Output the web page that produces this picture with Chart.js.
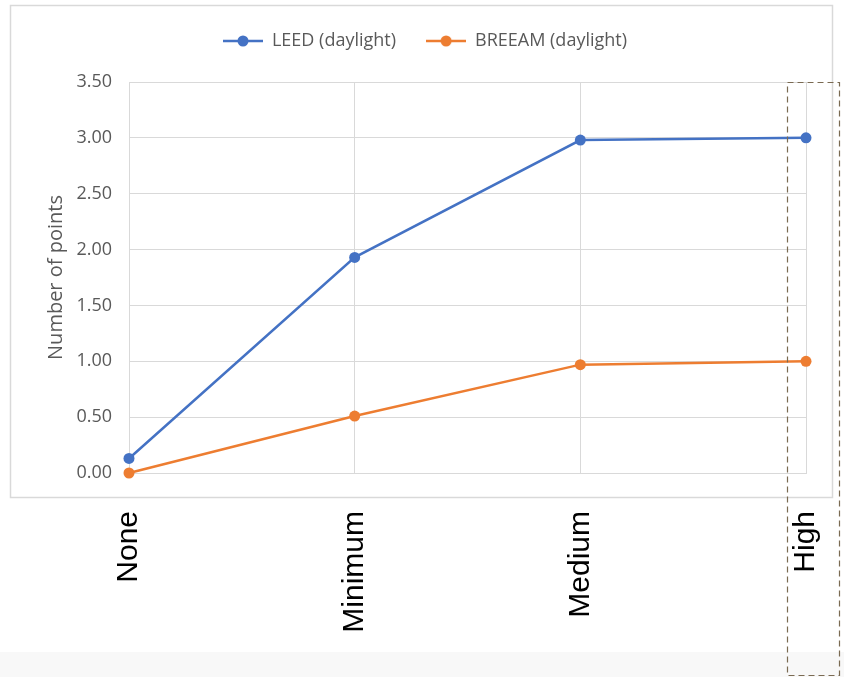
<!DOCTYPE html>
<html>
<head>
<meta charset="utf-8">
<script src="https://cdn.jsdelivr.net/npm/chart.js@4/dist/chart.umd.min.js"></script>
<style>
  html, body { margin: 0; padding: 0; background: #fff; }
  #strip { position: absolute; left: 0; top: 652px; width: 844px; height: 25px; background: #f8f8f8; }
  #chart { position: absolute; left: 0; top: 0; }
</style>
</head>
<body>
<div id="strip"></div>
<canvas id="chart" width="844" height="677"></canvas>
<script>
// Categories and series
const levels = ['None', 'Minimum', 'Medium', 'High'];
const leedPoints = [0.13, 1.93, 2.98, 3.00];
const breeamPoints = [0.00, 0.51, 0.97, 1.00];
const yTicks = [0, 0.5, 1, 1.5, 2, 2.5, 3, 3.5];

const colors = {
    leed: '#4472c4',
    breeam: '#ed7d31',
    grid: '#d9d9d9',
    text: '#595959',
};

// little "line with dot" swatch like Excel's legend
function legendSwatch(color) {
    const c = document.createElement('canvas');
    c.width = 40;
    c.height = 12;
    const g = c.getContext('2d');
    g.strokeStyle = color;
    g.lineWidth = 2.5;
    g.beginPath();
    g.moveTo(0, 6);
    g.lineTo(40, 6);
    g.stroke();
    g.fillStyle = color;
    g.beginPath();
    g.arc(20, 6, 5.5, 0, Math.PI * 2);
    g.fill();
    return c;
}

// outer frame of the chart + dashed box around "High"
const frames = {
    id: 'frames',
    beforeInit(chart) {
        // extra room under the legend
        const fit = chart.legend.fit;
        chart.legend.fit = function () {
            fit.call(this);
            this.height += 22;
        };
    },
    beforeDraw(chart) {
        const ctx = chart.ctx;
        ctx.save();
        ctx.strokeStyle = colors.grid;
        ctx.lineWidth = 1.5;
        ctx.strokeRect(10.5, 5.5, 822, 492);
        ctx.restore();
    },
    afterDraw(chart) {
        const ctx = chart.ctx;
        const x = chart.scales.x.getPixelForValue(levels.length - 1);
        const top = chart.chartArea.top;
        ctx.save();
        ctx.strokeStyle = '#7a6a52';
        ctx.lineWidth = 1.2;
        ctx.setLineDash([6, 4]);
        ctx.strokeRect(x - 18.5, top + 0.5, 52, 675 - top);
        ctx.restore();
    }
};

new Chart(document.getElementById('chart'), {
    type: 'line',
    data: {
        labels: levels,
        datasets: [
            {
                label: 'LEED (daylight)',
                data: leedPoints,
                borderColor: colors.leed,
                backgroundColor: colors.leed,
            },
            {
                label: 'BREEAM (daylight)',
                data: breeamPoints,
                borderColor: colors.breeam,
                backgroundColor: colors.breeam,
            }
        ]
    },
    options: {
        responsive: false,
        animation: false,
        layout: {
            padding: { top: 2, left: 44, right: 38, bottom: 0 }
        },
        elements: {
            line: { borderWidth: 2.5, tension: 0 },
            point: { radius: 5.5, borderWidth: 0, hoverRadius: 5.5 }
        },
        datasets: {
            line: { clip: false }
        },
        plugins: {
            legend: {
                position: 'top',
                labels: {
                    usePointStyle: true,
                    pointStyleWidth: 40,
                    padding: 30,
                    color: colors.text,
                    font: { family: 'Open Sans', size: 18 },
                    generateLabels(chart) {
                        const items = Chart.defaults.plugins.legend.labels.generateLabels(chart);
                        items.forEach(item => {
                            item.pointStyle = legendSwatch(chart.data.datasets[item.datasetIndex].borderColor);
                        });
                        return items;
                    }
                }
            },
            tooltip: { enabled: false }
        },
        scales: {
            x: {
                grid: { color: colors.grid, drawTicks: false },
                border: { color: colors.grid },
                ticks: {
                    color: '#000',
                    font: { family: 'Liberation Sans', size: 30 },
                    maxRotation: 90,
                    minRotation: 90,
                    padding: 38
                },
                afterFit(scale) {
                    scale.height = 204;
                    scale.paddingLeft = 0;
                    scale.paddingRight = 0;
                }
            },
            y: {
                min: 0,
                max: 3.5,
                afterBuildTicks(scale) { scale.ticks = yTicks.map(v => ({ value: v })); },
                grid: { color: colors.grid, drawTicks: false },
                border: { color: colors.grid },
                ticks: {
                    color: colors.text,
                    font: { family: 'Open Sans', size: 18 },
                    padding: 17,
                    callback: v => v.toFixed(2)
                },
                title: {
                    display: true,
                    text: 'Number of points',
                    color: colors.text,
                    font: { family: 'Open Sans', size: 20 },
                    padding: { top: 0, bottom: 0 }
                },
                afterFit(scale) { scale.width = 85; }
            }
        }
    },
    plugins: [frames]
});
</script>
</body>
</html>
